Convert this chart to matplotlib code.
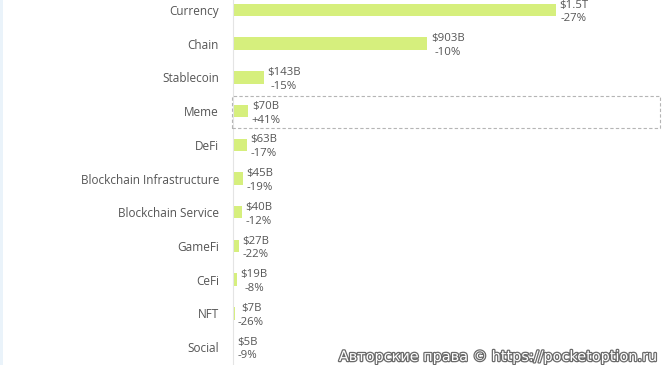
import matplotlib
matplotlib.use('Agg')
import matplotlib.pyplot as plt
import matplotlib.patches as mpatches
import matplotlib.patheffects as pe

categories = ['Currency', 'Chain', 'Stablecoin', 'Meme', 'DeFi',
              'Blockchain Infrastructure', 'Blockchain Service', 'GameFi',
              'CeFi', 'NFT', 'Social']
market_cap_b = [1500, 903, 143, 70, 63, 45, 40, 27, 19, 7, 5]
value_labels = ['$1.5T', '$903B', '$143B', '$70B', '$63B', '$45B', '$40B',
                '$27B', '$19B', '$7B', '$5B']
change_labels = ['-27%', '-10%', '-15%', '+41%', '-17%', '-19%', '-12%',
                 '-22%', '-8%', '-26%', '-9%']

W, H = 665, 365
BAR = '#d6ef7d'
TXT = '#555555'
plt.rcParams['font.family'] = ['Open Sans', 'DejaVu Sans']

fig = plt.figure(figsize=(W / 100, H / 100), dpi=100)
fig.patch.set_facecolor('white')

x0 = 233
ax = fig.add_axes([x0 / W, 0, (W - x0) / W, 1])
px_per_b = 323 / 1500
ax.set_xlim(0, (W - x0) / px_per_b)
row0, step = 10, 33.7
ax.set_ylim((H - row0) / step, -row0 / step)

ypos = list(range(len(categories)))
ax.barh(ypos, market_cap_b, height=0.37, color=BAR, zorder=2)

for y, v, lab, ch in zip(ypos, market_cap_b, value_labels, change_labels):
    ax.text(v + 3.5 / px_per_b, y + 0.06, f'{lab}\n{ch}', ha='left', va='center',
            multialignment='center', fontsize=8.2, color=TXT, linespacing=1.35)

ax.set_yticks(ypos)
ax.set_yticklabels(categories, fontsize=8.5, color=TXT)
ax.tick_params(axis='y', length=0, pad=10)
ax.set_xticks([])
for s in ['top', 'right', 'bottom']:
    ax.spines[s].set_visible(False)
ax.spines['left'].set_color('#e4e4e4')
ax.spines['left'].set_linewidth(0.8)

# dashed highlight around Meme row
box = mpatches.Rectangle((232 / W, 1 - 128 / H), 428 / W, 32 / H,
                         transform=fig.transFigure, fill=False,
                         edgecolor='#b5b5b5', linestyle=(0, (3, 2)), lw=0.8)
fig.add_artist(box)

# thin light strip on the left edge
fig.add_artist(mpatches.Rectangle((0, 0), 3 / W, 1, transform=fig.transFigure,
                                  color='#eaf3fa', lw=0))

fig.text(655 / W, 1 - 357 / H, 'Авторские права © https://pocketoption.ru',
         ha='right', va='center', fontsize=10.4, color='white',
         family='DejaVu Sans',
         path_effects=[pe.withStroke(linewidth=1.8, foreground='#6a6a6a')])

fig.savefig('out.png', dpi=100)
